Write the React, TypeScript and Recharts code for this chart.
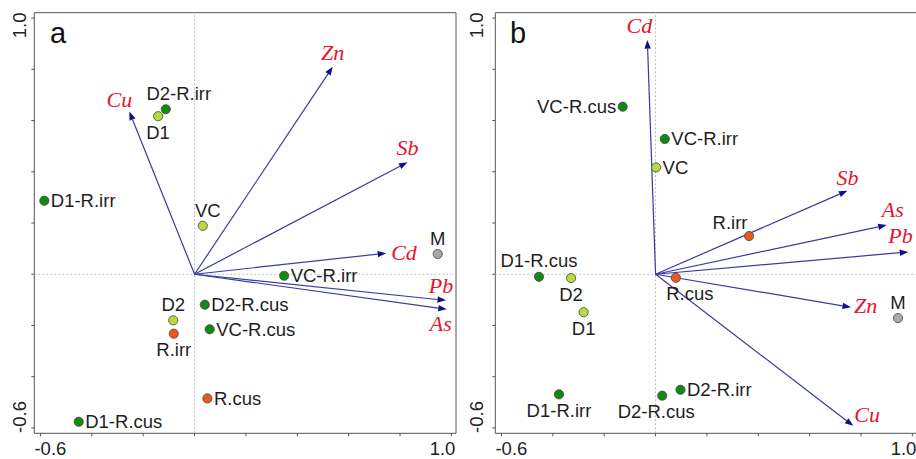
import React from 'react';
import {
  ScatterChart,
  Scatter,
  XAxis,
  YAxis,
  ReferenceLine,
  ReferenceArea,
} from 'recharts';

// ---- axes ----
const AXIS_TICKS = [-0.6, -0.4, -0.2, 0, 0.2, 0.4, 0.6, 0.8, 1.0];
const X_DOMAIN: [number, number] = [-0.624, 1.018];
const Y_DOMAIN: [number, number] = [-0.621, 1.021];

// ---- panel a: site scores ----
const sitesA = ['D2-R.irr', 'D1', 'D1-R.irr', 'VC', 'M', 'VC-R.irr', 'D2-R.cus', 'D2', 'R.irr', 'VC-R.cus', 'R.cus', 'D1-R.cus'];
const siteXA = [-0.112, -0.142, -0.585, 0.032, 0.947, 0.349, 0.04, -0.083, -0.081, 0.059, 0.05, -0.451];
const siteYA = [0.644, 0.617, 0.287, 0.189, 0.079, -0.006, -0.119, -0.18, -0.232, -0.215, -0.485, -0.576];

// ---- panel a: element loadings ----
const elemsA = ['Cu', 'Zn', 'Sb', 'Cd', 'Pb', 'As'];
const elemXA = [-0.254, 0.538, 0.829, 0.746, 0.979, 0.982];
const elemYA = [0.635, 0.81, 0.437, 0.082, -0.102, -0.137];

// ---- panel b: site scores ----
const sitesB = ['VC-R.cus', 'VC-R.irr', 'VC', 'R.irr', 'D1-R.cus', 'D2', 'R.cus', 'D1', 'M', 'D1-R.irr', 'D2-R.cus', 'D2-R.irr'];
const siteXB = [-0.128, 0.036, 0.002, 0.364, -0.454, -0.329, 0.079, -0.28, 0.944, -0.376, 0.026, 0.097];
const siteYB = [0.654, 0.528, 0.417, 0.149, -0.01, -0.015, -0.014, -0.148, -0.171, -0.469, -0.474, -0.451];

// ---- panel b: element loadings ----
const elemsB = ['Cd', 'Sb', 'As', 'Pb', 'Zn', 'Cu'];
const elemXB = [-0.032, 0.747, 0.9, 0.984, 0.761, 0.77];
const elemYB = [0.914, 0.326, 0.192, 0.087, -0.129, -0.592];

const GROUP_COLORS: Record<string, string> = {
  mix: '#108a10',
  amend: '#b7da3e',
  soil: '#e8591b',
  mine: '#a8a8a8',
};

const groupOf = (name: string) => {
  if (name === 'M') return 'mine';
  if (name.startsWith('R.')) return 'soil';
  if (name.includes('-R.')) return 'mix';
  return 'amend';
};

type Side = 'above' | 'below' | 'left' | 'right';
type Spot = { side: Side; dx?: number; dy?: number };
type VarSpot = { anchor: 'start' | 'middle' | 'end'; dx: number; dy: number };

const siteSpotA: Record<string, Spot> = {
  'D2-R.irr': { side: 'above', dx: 13 },
  D1: { side: 'below' },
  'D1-R.irr': { side: 'right' },
  VC: { side: 'above', dx: 5 },
  M: { side: 'above' },
  'VC-R.irr': { side: 'right' },
  'D2-R.cus': { side: 'right' },
  D2: { side: 'above' },
  'R.irr': { side: 'below' },
  'VC-R.cus': { side: 'right' },
  'R.cus': { side: 'right' },
  'D1-R.cus': { side: 'right' },
};

const siteSpotB: Record<string, Spot> = {
  'VC-R.cus': { side: 'left' },
  'VC-R.irr': { side: 'right' },
  VC: { side: 'right' },
  'R.irr': { side: 'above', dx: -19, dy: 2 },
  'D1-R.cus': { side: 'above', dy: -1 },
  D2: { side: 'below' },
  'R.cus': { side: 'below', dx: 14 },
  D1: { side: 'below' },
  M: { side: 'above' },
  'D1-R.irr': { side: 'below' },
  'D2-R.cus': { side: 'below', dx: -6 },
  'D2-R.irr': { side: 'right' },
};

const varSpotA: Record<string, VarSpot> = {
  Cu: { anchor: 'middle', dx: -10, dy: -5 },
  Zn: { anchor: 'middle', dx: 0, dy: -7 },
  Sb: { anchor: 'middle', dx: 0, dy: -7 },
  Cd: { anchor: 'start', dx: 5, dy: 7 },
  Pb: { anchor: 'middle', dx: -5, dy: -7 },
  As: { anchor: 'middle', dx: -6, dy: 22 },
};

const varSpotB: Record<string, VarSpot> = {
  Cd: { anchor: 'middle', dx: -8, dy: -7 },
  Sb: { anchor: 'middle', dx: 0, dy: -6 },
  As: { anchor: 'middle', dx: 6, dy: -8 },
  Pb: { anchor: 'start', dx: -20, dy: -9 },
  Zn: { anchor: 'start', dx: 3, dy: 6 },
  Cu: { anchor: 'start', dx: 1, dy: -4 },
};

const SANS = '"Liberation Sans", Arial, sans-serif';
const SERIF = '"Liberation Serif", "Times New Roman", serif';

const toSites = (names: string[], xs: number[], ys: number[]) =>
  names.map((name, i) => ({ name, x: xs[i], y: ys[i], group: groupOf(name) }));

const toLoadings = (names: string[], xs: number[], ys: number[]) =>
  names.map((name, i) => ({ name, x: xs[i], y: ys[i] }));

const XTick = (props: any) => {
  const { x, y, payload } = props;
  const v = payload.value;
  if (v !== -0.6 && v !== 1) return <g />;
  return (
    <text
      x={v < 0 ? x - 6 : x + 4}
      y={y + 16.3}
      textAnchor={v < 0 ? 'start' : 'end'}
      fontFamily={SANS}
      fontSize={18.5}
      fill="#222"
    >
      {v.toFixed(1)}
    </text>
  );
};

const makeYTick = (gap: number) => (props: any) => {
  const { x, y, payload } = props;
  const v = payload.value;
  if (v !== -0.6 && v !== 1) return <g />;
  const bx = x - gap;
  const by = v < 0 ? y + 5 : y - 5.6;
  return (
    <text
      x={bx}
      y={by}
      transform={`rotate(-90, ${bx}, ${by})`}
      textAnchor={v < 0 ? 'start' : 'end'}
      fontFamily={SANS}
      fontSize={18.5}
      fill="#222"
    >
      {v.toFixed(1)}
    </text>
  );
};

const arrowShape = (name: string, spot: VarSpot) => (p: any) => {
  const { x1, y1, x2, y2 } = p;
  const ang = Math.atan2(y2 - y1, x2 - x1);
  const c = Math.cos(ang);
  const s = Math.sin(ang);
  const L = 8.5;
  const W = 3.2;
  const bx = x2 - L * c;
  const by = y2 - L * s;
  const pts = `${x2},${y2} ${bx - W * s},${by + W * c} ${bx + W * s},${by - W * c}`;
  return (
    <g>
      <line x1={x1} y1={y1} x2={bx} y2={by} stroke="#3a3aa3" strokeWidth={1.2} />
      <polygon points={pts} fill="#10108a" />
      <text
        x={x2 + spot.dx}
        y={y2 + spot.dy}
        textAnchor={spot.anchor}
        fontFamily={SERIF}
        fontStyle="italic"
        fontSize={22}
        fill="#e5142e"
      >
        {name}
      </text>
    </g>
  );
};

const siteShape = (spots: Record<string, Spot>) => (p: any) => {
  const { cx, cy, payload } = p;
  const spot = spots[payload.name] || { side: 'right' };
  let tx = cx;
  let ty = cy;
  let anchor: 'start' | 'middle' | 'end' = 'middle';
  if (spot.side === 'right') {
    tx = cx + 6.5;
    ty = cy + 6.5;
    anchor = 'start';
  } else if (spot.side === 'left') {
    tx = cx - 6.5;
    ty = cy + 6.5;
    anchor = 'end';
  } else if (spot.side === 'above') {
    ty = cy - 9;
  } else {
    ty = cy + 22.5;
  }
  tx += spot.dx || 0;
  ty += spot.dy || 0;
  return (
    <g>
      <circle cx={cx} cy={cy} r={4.6} fill={GROUP_COLORS[payload.group]} stroke="#444" strokeWidth={0.8} />
      <text x={tx} y={ty} textAnchor={anchor} fontFamily={SANS} fontSize={18.5} fill="#1e1e1e">
        {payload.name}
      </text>
    </g>
  );
};

type PanelProps = {
  sites: { name: string; x: number; y: number; group: string }[];
  loadings: { name: string; x: number; y: number }[];
  siteSpots: Record<string, Spot>;
  varSpots: Record<string, VarSpot>;
  yGap: number;
};

const Panel: React.FC<PanelProps> = ({ sites, loadings, siteSpots, varSpots, yGap }) => (
  <ScatterChart width={461} height={459} margin={{ top: 12.7, right: 5, bottom: 5.7, left: 4.3 }}>
    <XAxis
      type="number"
      dataKey="x"
      domain={X_DOMAIN}
      ticks={AXIS_TICKS}
      interval={0}
      allowDataOverflow
      axisLine={false}
      tickLine={{ stroke: '#555' }}
      tickSize={3}
      height={20}
      tick={<XTick />}
    />
    <YAxis
      type="number"
      dataKey="y"
      domain={Y_DOMAIN}
      ticks={AXIS_TICKS}
      interval={0}
      allowDataOverflow
      axisLine={false}
      tickLine={{ stroke: '#555' }}
      tickSize={3}
      width={30}
      tick={makeYTick(yGap)}
    />
    <ReferenceArea
      x1={X_DOMAIN[0]}
      x2={X_DOMAIN[1]}
      y1={Y_DOMAIN[0]}
      y2={Y_DOMAIN[1]}
      fill="none"
      fillOpacity={0}
      stroke="#555"
      strokeWidth={1}
    />
    <ReferenceLine x={0} stroke="#bdbdbd" strokeDasharray="2 2" />
    <ReferenceLine y={0} stroke="#bdbdbd" strokeDasharray="2 2" />
    {loadings.map((l) => (
      <ReferenceLine
        key={l.name}
        segment={[{ x: 0, y: 0 }, { x: l.x, y: l.y }]}
        shape={arrowShape(l.name, varSpots[l.name])}
      />
    ))}
    <Scatter data={sites} isAnimationActive={false} shape={siteShape(siteSpots)} />
  </ScatterChart>
);

const letterStyle: React.CSSProperties = {
  position: 'absolute',
  top: 18.5,
  fontFamily: SANS,
  fontSize: 29,
  lineHeight: '29px',
  color: '#111',
};

export default function App() {
  return (
    <div
      style={{
        position: 'absolute',
        left: 0,
        top: 0,
        width: 916,
        height: 459,
        overflow: 'hidden',
        background: '#fff',
      }}
    >
      <div style={{ position: 'absolute', left: 0, top: 0 }}>
        <Panel
          sites={toSites(sitesA, siteXA, siteYA)}
          loadings={toLoadings(elemsA, elemXA, elemYA)}
          siteSpots={siteSpotA}
          varSpots={varSpotA}
          yGap={3.3}
        />
      </div>
      <div style={{ position: 'absolute', left: 461.4, top: 0 }}>
        <Panel
          sites={toSites(sitesB, siteXB, siteYB)}
          loadings={toLoadings(elemsB, elemXB, elemYB)}
          siteSpots={siteSpotB}
          varSpots={varSpotB}
          yGap={7.4}
        />
      </div>
      <div style={{ ...letterStyle, left: 50 }}>a</div>
      <div style={{ ...letterStyle, left: 510 }}>b</div>
    </div>
  );
}
